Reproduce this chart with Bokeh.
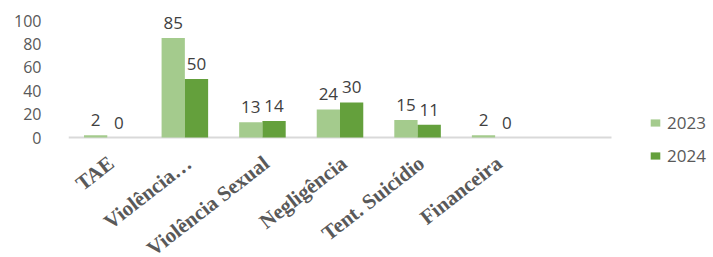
from bokeh.plotting import figure
from bokeh.models import (Range1d, Legend, LegendItem, ColumnDataSource,
                          LabelSet, FixedTicker)
from bokeh.core.properties import value
from bokeh.embed import file_html
from bokeh.resources import INLINE

# ---- data ----
categories = ["TAE", "Violência…", "Violência Sexual", "Negligência",
              "Tent. Suicídio", "Financeira", ""]
values_2023 = [2, 85, 13, 24, 15, 2]
values_2024 = [0, 50, 14, 30, 11, 0]
series_names = ["2023", "2024"]
y_ticks = [0, 20, 40, 60, 80, 100]

c2023 = "#a4cb8d"
c2024 = "#64a03c"

# ---- layout constants (pixels) ----
W, H = 712, 256
left = 68
top_tick_px = 20         # page y of the top tick (100)
axis_px = 137            # page y of the value axis baseline
cat_px = (611 - 68) / len(categories)
px_per_unit = (axis_px - top_tick_px) / max(y_ticks)

n = len(values_2023)
idx = list(range(n))
src = ColumnDataSource(dict(
    x1=[i - 0.15 for i in idx],
    x2=[i + 0.15 for i in idx],
    v2023=values_2023,
    v2024=values_2024,
    t2023=[str(v) for v in values_2023],
    t2024=[str(v) for v in values_2024],
))
cat_src = ColumnDataSource(dict(x=list(range(len(categories))),
                                y=[0] * len(categories),
                                name=categories))

x_end = -0.5 + (W - left) / cat_px
y_end = max(y_ticks) + top_tick_px / px_per_unit
y_start = -(H - axis_px) / px_per_unit

p = figure(width=W, height=H, x_range=Range1d(-0.5, x_end),
           y_range=Range1d(y_start, y_end), output_backend="svg",
           toolbar_location=None, x_axis_type=None,
           min_border_left=left, min_border_right=0, min_border_top=0,
           min_border_bottom=0)
p.outline_line_color = None
p.xgrid.visible = False
p.ygrid.visible = False

# baseline (category axis line)
p.segment(x0=[-0.5], x1=[len(categories) - 0.5], y0=[0], y1=[0],
          line_color="#d9d9d9", line_width=2)

r1 = p.vbar(x="x1", top="v2023", bottom=0, width=0.3, source=src,
            fill_color=c2023, line_color=None)
r2 = p.vbar(x="x2", top="v2024", bottom=0, width=0.3, source=src,
            fill_color=c2024, line_color=None)

for col, xc in (("2023", "x1"), ("2024", "x2")):
    p.add_layout(LabelSet(x=xc, y="v" + col, text="t" + col, source=src,
                          text_align="center", text_baseline="bottom",
                          y_offset=9, text_font=value("Open Sans"),
                          text_font_size="17px", text_color="#404040"))

# category labels (rotated)
p.add_layout(LabelSet(x="x", y="y", text="name", source=cat_src,
                      angle=0.66, text_align="right", text_baseline="middle",
                      x_offset=4, y_offset=-23,
                      text_font=value("Liberation Serif"), text_font_style="bold",
                      text_font_size="21px", text_color="#595959"))

# y axis
p.yaxis.ticker = FixedTicker(ticks=y_ticks)
p.yaxis.axis_line_color = None
p.yaxis.major_tick_line_color = None
p.yaxis.minor_tick_line_color = None
p.yaxis.major_label_standoff = 21
p.yaxis.major_label_text_font = "Open Sans"
p.yaxis.major_label_text_font_size = "16px"
p.yaxis.major_label_text_color = "#595959"

legend = Legend(items=[LegendItem(label=series_names[0], renderers=[r1]),
                       LegendItem(label=series_names[1], renderers=[r2])],
                location=(649 - left, H - 167), orientation="vertical",
                glyph_width=12, glyph_height=9, label_standoff=6, spacing=10,
                padding=0, margin=0, border_line_color=None,
                background_fill_alpha=0,
                label_text_font="Open Sans", label_text_font_size="17px",
                label_text_color="#595959", label_height=20)
p.add_layout(legend)

open("out.html", "w").write(file_html(p, INLINE))
